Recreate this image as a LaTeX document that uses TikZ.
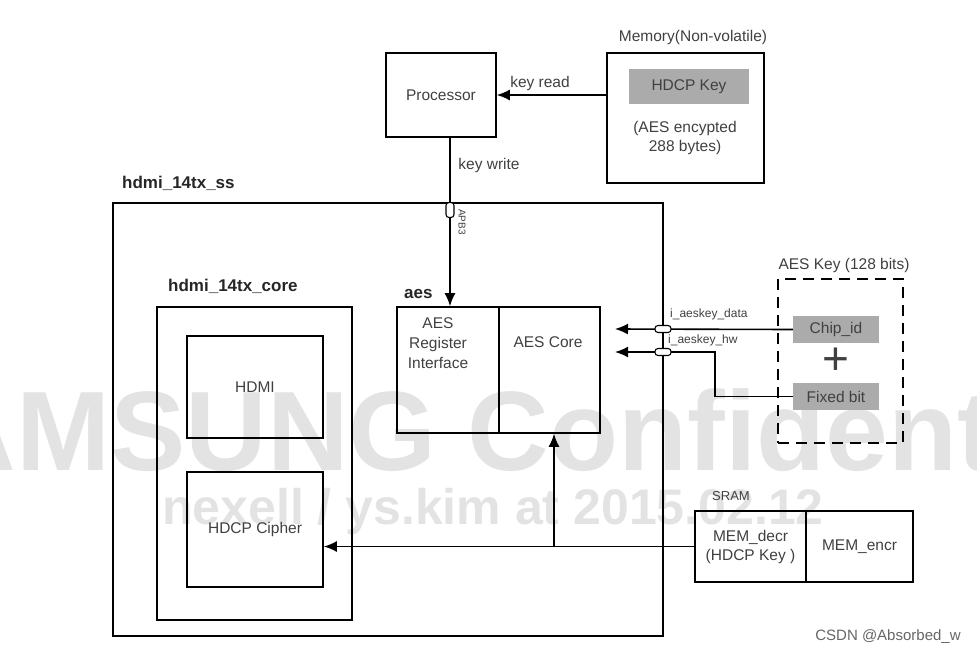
\documentclass[tikz,border=0pt]{standalone}
\usepackage{fontspec}
\setmainfont{Liberation Sans}
\usetikzlibrary{arrows.meta,calc}
\newcommand{\mainsz}{\fontsize{15.5}{19}\selectfont}
\newcommand{\smallsz}{\fontsize{12}{14}\selectfont}
\newcommand{\titlesz}{\fontsize{17}{20}\selectfont\bfseries}

\begin{document}
\begin{tikzpicture}[x=1pt,y=-1pt,font=\mainsz,
  blk/.style={draw,line width=1.6pt,rectangle,inner sep=0pt,text=black!75},
  keybox/.style={rectangle,fill=black!33,inner sep=0pt,text=black!75},
  port/.style={draw,line width=1.1pt,fill=white,rounded corners=3pt,inner sep=0pt},
  arr/.style={line width=1.6pt,-{Latex[length=13pt,width=11pt]}},
  lbl/.style={inner sep=0pt,text=black!75},
  title/.style={inner sep=0pt,font=\titlesz,text=black!85}]
  \useasboundingbox (0,0) rectangle (977,654);
  \begin{scope}
    \clip (0,0) rectangle (977,654);
    \node[anchor=base,inner sep=0pt,text=black!11,font=\fontsize{113}{113}\selectfont\bfseries] (wmbig) at (490,470) {SAMSUNG Confidential};
    \node[anchor=base,inner sep=0pt,text=black!11,font=\fontsize{50}{50}\selectfont\bfseries] (wmsmall) at (493,524) {nexell / ys.kim at 2015.02.12};
  \end{scope}

  \node[blk,minimum width=110,minimum height=84] (proc) at (441,95) {Processor};
  \node[blk,minimum width=157,minimum height=130] (mem) at (685.5,118) {};
  \node[lbl] (memlbl) at (693,37) {Memory(Non-volatile)};
  \node[keybox,minimum width=120,minimum height=35] (hdcpkey) at (689,86.5) {HDCP Key};
  \node[lbl,align=center] (memnote) at (685,137.5) {(AES encypted\\288 bytes)};
  \node[lbl] (keyread) at (540,83) {key read};
  \node[lbl] (keywrite) at (489,165) {key write};

  \node[blk,minimum width=550,minimum height=433] (ss) at (388,419.5) {};
  \node[title,anchor=base west] (sslbl) at (122,188) {hdmi\_14tx\_ss};
  \node[blk,minimum width=195,minimum height=313] (core) at (254.5,463.5) {};
  \node[title,anchor=base west] (corelbl) at (168,291) {hdmi\_14tx\_core};
  \node[blk,minimum width=136,minimum height=102] (hdmi) at (255,387) {HDMI};
  \node[blk,minimum width=136,minimum height=115] (cipher) at (255,529.5) {HDCP Cipher};

  \node[blk,minimum width=102,minimum height=126] (aesreg) at (448,370) {};
  \node[blk,minimum width=101,minimum height=126] (aescore) at (549.5,370) {};
  \node[lbl,align=center,font=\fontsize{15.5}{20}\selectfont] (aesregtxt) at (438,343) {AES\\Register\\Interface};
  \node[lbl] (aescoretxt) at (548,342) {AES Core};
  \node[title,anchor=base west] (aeslbl) at (404,298) {aes};

  \node[draw,line width=2.8pt,dash pattern=on 11pt off 7pt,minimum width=125,minimum height=164,inner sep=0pt] (keyfrm) at (840.5,361) {};
  \node[lbl] (keylbl) at (844,265) {AES Key (128 bits)};
  \node[keybox,minimum width=86,minimum height=27] (chip) at (836,329.5) {Chip\_id};
  \node[keybox,minimum width=86,minimum height=27] (fixbit) at (836,396.5) {Fixed bit};
  \node[lbl,font=\fontsize{46}{46}\selectfont\color{black!80}] (plus) at (836,361) {+};

  \node[lbl,font=\fontsize{13}{15}\selectfont] (sramlbl) at (731,496) {SRAM};
  \node[blk,minimum width=111,minimum height=71,align=center] (memdecr) at (750.5,546.5) {MEM\_decr\\(HDCP Key )};
  \node[blk,minimum width=107,minimum height=71] (memencr) at (859.5,546.5) {MEM\_encr};

  \coordinate (apbpt) at (450,210);
  \coordinate (datatip) at (615,329);
  \coordinate (hwtip) at (615,352);
  \coordinate (brpt) at (554,547);

  \draw[arr] (proc.east -| mem.west) -- (proc.east);
  \draw[arr] (proc.south -| apbpt) -- (apbpt |- aesreg.north);
  \draw[arr] (chip.west) -- (datatip);
  \draw[arr] (fixbit.west) -- ++(-78,0) |- (hwtip);
  \draw[arr] (memdecr.west) -- (memdecr.west -| cipher.east);
  \draw[arr] (brpt) -- (brpt |- aescore.south);

  \node[port,minimum width=8,minimum height=15] (apb) at (apbpt) {};
  \node[port,minimum width=16,minimum height=7] (dataport) at (663,329) {};
  \node[port,minimum width=16,minimum height=7] (hwport) at (663,352) {};
  \node[lbl,rotate=-90,font=\fontsize{10}{12}\selectfont] (apblbl) at (462,222) {APB3};
  \node[lbl,anchor=base west,font=\smallsz] (datalbl) at (670,317) {i\_aeskey\_data};
  \node[lbl,anchor=base west,font=\smallsz] (hwlbl) at (668,343) {i\_aeskey\_hw};

  \node[lbl,text=black!60,font=\fontsize{15}{17}\selectfont] (csdn) at (888,637) {CSDN @Absorbed\_w};
\end{tikzpicture}
\end{document}
